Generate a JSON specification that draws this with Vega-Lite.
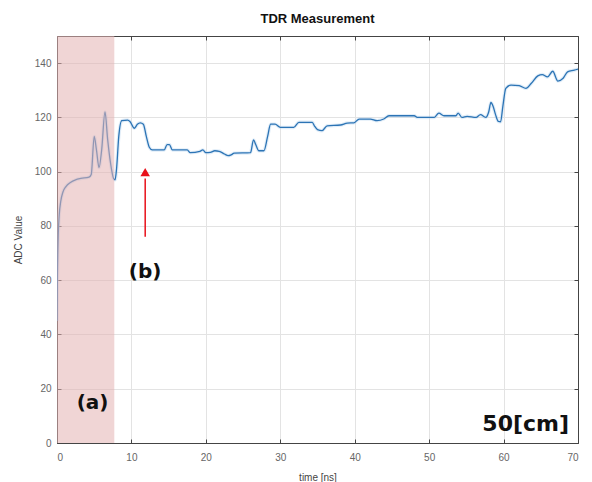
{
  "$schema": "https://vega.github.io/schema/vega-lite/v6.json",
  "width": 521,
  "height": 407,
  "autosize": {"type": "none"},
  "padding": {"left": 57, "top": 36, "right": 14, "bottom": 39},
  "background": "white",
  "title": {"text": "TDR Measurement", "fontSize": 13, "font": "Liberation Sans", "fontWeight": "bold", "color": "#111", "offset": 10, "anchor": "middle"},
  "config": {
    "view": {"stroke": "#444", "strokeWidth": 1},
    "axis": {"labelFont": "Liberation Sans", "labelFontSize": 10, "labelColor": "#666", "titleFont": "Liberation Sans", "titleFontSize": 10, "titleFontWeight": "normal", "titleColor": "#444", "gridColor": "#e3e3e3", "tickColor": "#444", "domainColor": "#444", "tickSize": -4}
  },
  "datasets": {
    "tdr": [
      {"t": 0.0, "v": 45}, {"t": 0.05, "v": 60}, {"t": 0.15, "v": 75}, {"t": 0.3, "v": 84}, {"t": 0.5, "v": 89},
      {"t": 0.8, "v": 92.5}, {"t": 1.2, "v": 94.5}, {"t": 1.8, "v": 96}, {"t": 2.5, "v": 97}, {"t": 3.2, "v": 97.5},
      {"t": 4.3, "v": 98}, {"t": 4.6, "v": 99}, {"t": 5.0, "v": 113}, {"t": 5.3, "v": 108}, {"t": 5.65, "v": 101.5},
      {"t": 6.0, "v": 108}, {"t": 6.45, "v": 122}, {"t": 6.8, "v": 112}, {"t": 7.2, "v": 103}, {"t": 7.6, "v": 97.5},
      {"t": 7.8, "v": 97}, {"t": 8.0, "v": 101}, {"t": 8.3, "v": 113}, {"t": 8.7, "v": 118.8}, {"t": 9.5, "v": 119},
      {"t": 9.8, "v": 118.5}, {"t": 10.4, "v": 116}, {"t": 10.8, "v": 117.5}, {"t": 11.2, "v": 118}, {"t": 11.6, "v": 117.5},
      {"t": 12.0, "v": 113}, {"t": 12.4, "v": 109}, {"t": 12.8, "v": 108}, {"t": 14.4, "v": 108}, {"t": 14.8, "v": 110},
      {"t": 15.1, "v": 110}, {"t": 15.5, "v": 108}, {"t": 17.5, "v": 108}, {"t": 17.9, "v": 107}, {"t": 19.2, "v": 107.5},
      {"t": 19.6, "v": 108}, {"t": 20.0, "v": 107}, {"t": 20.6, "v": 107.1}, {"t": 21.2, "v": 107.7}, {"t": 21.8, "v": 107.5},
      {"t": 22.5, "v": 106.5}, {"t": 23.0, "v": 105.9}, {"t": 23.4, "v": 106.2}, {"t": 23.8, "v": 106.8}, {"t": 26.0, "v": 107},
      {"t": 26.4, "v": 111.7}, {"t": 26.7, "v": 110}, {"t": 27.1, "v": 107.7}, {"t": 27.8, "v": 107.7}, {"t": 28.3, "v": 113},
      {"t": 28.7, "v": 117.5}, {"t": 29.3, "v": 117.5}, {"t": 30.0, "v": 116.3}, {"t": 31.8, "v": 116.3}, {"t": 32.5, "v": 118.2},
      {"t": 34.3, "v": 118.2}, {"t": 34.6, "v": 116.8}, {"t": 35.0, "v": 115.5}, {"t": 35.6, "v": 115.1}, {"t": 36.3, "v": 116.9},
      {"t": 38.1, "v": 117.2}, {"t": 39.0, "v": 117.9}, {"t": 39.9, "v": 118}, {"t": 40.6, "v": 119.4}, {"t": 42.1, "v": 119.4},
      {"t": 43.0, "v": 118.8}, {"t": 43.9, "v": 119.4}, {"t": 44.6, "v": 120.6}, {"t": 48.0, "v": 120.6}, {"t": 48.4, "v": 120},
      {"t": 50.7, "v": 120}, {"t": 51.3, "v": 121.6}, {"t": 52.0, "v": 120.6}, {"t": 53.6, "v": 120.6}, {"t": 53.9, "v": 121.6},
      {"t": 54.4, "v": 120}, {"t": 55.1, "v": 120.4}, {"t": 56.3, "v": 120}, {"t": 56.9, "v": 121}, {"t": 57.6, "v": 120},
      {"t": 58.0, "v": 122}, {"t": 58.3, "v": 125.5}, {"t": 58.6, "v": 124}, {"t": 58.9, "v": 121.2}, {"t": 59.3, "v": 118.5},
      {"t": 59.6, "v": 118.4}, {"t": 59.9, "v": 124}, {"t": 60.3, "v": 130.7}, {"t": 61.0, "v": 131.9}, {"t": 62.1, "v": 131.7},
      {"t": 63.0, "v": 130.7}, {"t": 63.7, "v": 132.5}, {"t": 64.6, "v": 135.3}, {"t": 65.2, "v": 135.8}, {"t": 65.9, "v": 134.9},
      {"t": 66.6, "v": 137}, {"t": 67.3, "v": 133.4}, {"t": 68.0, "v": 134.4}, {"t": 68.6, "v": 136.8}, {"t": 69.5, "v": 137.4},
      {"t": 70.0, "v": 137.8}
    ],
    "region": [{"start": 0, "end": 7.7}],
    "arrow": [{"t": 11.85, "from": 76, "to": 97.5, "head": 99.8}],
    "labels": [
      {"t": 4.78, "v": 14.7, "label": "(a)"},
      {"t": 11.84, "v": 63, "label": "(b)"}
    ],
    "corner": [{"t": 68.8, "v": 4.6, "label": "50[cm]"}]
  },
  "resolve": {"axis": {"x": "independent", "y": "independent"}},
  "layer": [
    {
      "data": {"name": "tdr"},
      "mark": {"type": "line", "color": "#b3d3ee", "strokeWidth": 3.5, "opacity": 0.4, "interpolate": "monotone", "clip": true},
      "encoding": {
        "x": {"field": "t", "type": "quantitative", "scale": {"domain": [0, 70], "nice": false}, "axis": {"values": [0,10,20,30,40,50,60,70], "title": "time [ns]", "labelPadding": 13, "titlePadding": 10, "grid": true}},
        "y": {"field": "v", "type": "quantitative", "scale": {"domain": [0, 150], "nice": false}, "axis": {"values": [0,20,40,60,80,100,120,140], "title": "ADC Value", "labelPadding": 10, "titlePadding": 11, "grid": true}}
      }
    },
    {
      "data": {"name": "tdr"},
      "mark": {"type": "line", "color": "#2c74b5", "strokeWidth": 1.3, "interpolate": "monotone", "clip": true},
      "encoding": {
        "x": {"field": "t", "type": "quantitative", "axis": null},
        "y": {"field": "v", "type": "quantitative", "axis": null}
      }
    },
    {
      "data": {"name": "region"},
      "mark": {"type": "rect", "fill": "#e3b3b3", "opacity": 0.55},
      "encoding": {
        "x": {"field": "start", "type": "quantitative", "axis": {"orient": "top", "values": [0,10,20,30,40,50,60,70], "labels": false, "title": null, "grid": false}},
        "x2": {"field": "end"}
      }
    },
    {
      "data": {"name": "arrow"},
      "mark": {"type": "rule", "color": "#e8101a", "strokeWidth": 1.5},
      "encoding": {
        "x": {"field": "t", "type": "quantitative", "axis": null},
        "y": {"field": "from", "type": "quantitative", "axis": {"orient": "right", "values": [0,20,40,60,80,100,120,140], "labels": false, "title": null, "grid": false}},
        "y2": {"field": "to"}
      }
    },
    {
      "data": {"name": "arrow"},
      "mark": {"type": "point", "shape": "triangle-up", "filled": true, "color": "#e8101a", "size": 90, "opacity": 1},
      "encoding": {
        "x": {"field": "t", "type": "quantitative", "axis": null},
        "y": {"field": "head", "type": "quantitative", "axis": null}
      }
    },
    {
      "data": {"name": "labels"},
      "mark": {"type": "text", "font": "DejaVu Sans", "fontWeight": "bold", "fontSize": 20, "color": "#111", "baseline": "middle", "align": "center"},
      "encoding": {
        "x": {"field": "t", "type": "quantitative", "axis": null},
        "y": {"field": "v", "type": "quantitative", "axis": null},
        "text": {"field": "label"}
      }
    },
    {
      "data": {"name": "corner"},
      "mark": {"type": "text", "font": "DejaVu Sans", "fontWeight": "bold", "fontSize": 22, "color": "#111", "baseline": "alphabetic", "align": "right"},
      "encoding": {
        "x": {"field": "t", "type": "quantitative", "axis": null},
        "y": {"field": "v", "type": "quantitative", "axis": null},
        "text": {"field": "label"}
      }
    }
  ]
}
